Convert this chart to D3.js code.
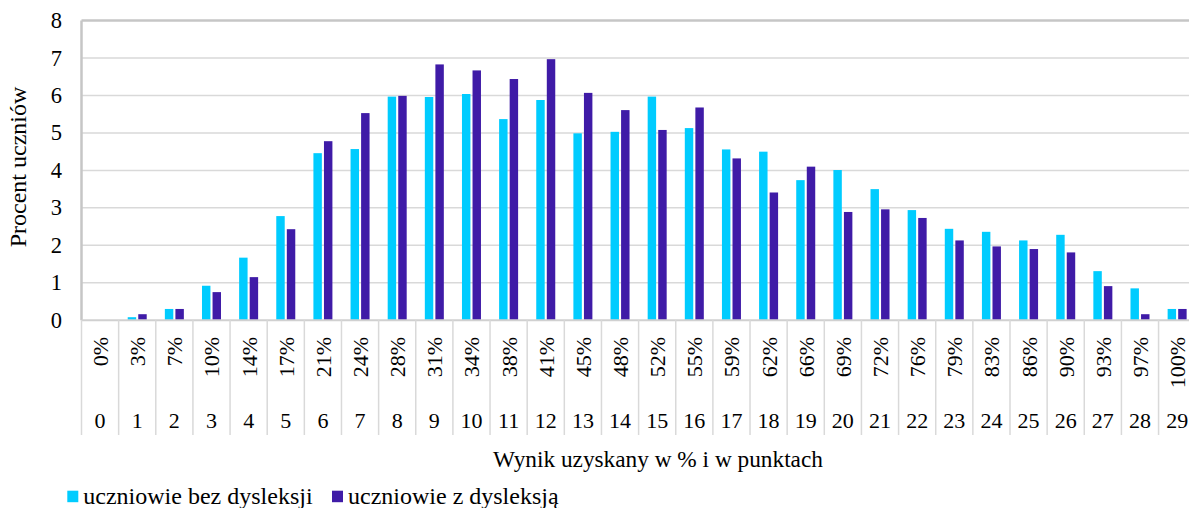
<!DOCTYPE html>
<html>
<head>
<meta charset="utf-8">
<script src="https://cdn.jsdelivr.net/npm/d3@7"></script>
<style>
html,body{margin:0;padding:0;background:#fff;}
svg{display:block;font-family:"Liberation Serif","Times New Roman",serif;}
</style>
</head>
<body>
<svg id="chart" width="1189" height="508"></svg>
<script>
const points = ["0","1","2","3","4","5","6","7","8","9","10","11","12","13","14","15","16","17","18","19","20","21","22","23","24","25","26","27","28","29"];
const percents = ["0%","3%","7%","10%","14%","17%","21%","24%","28%","31%","34%","38%","41%","45%","48%","52%","55%","59%","62%","66%","69%","72%","76%","79%","83%","86%","90%","93%","97%","100%"];
const bezDysleksji = [0,0.08,0.30,0.92,1.67,2.78,4.46,4.57,5.97,5.96,6.04,5.37,5.88,4.99,5.03,5.97,5.13,4.56,4.50,3.74,4.01,3.50,2.94,2.44,2.36,2.13,2.28,1.31,0.85,0.30];
const zDysleksja = [0,0.16,0.30,0.75,1.15,2.43,4.78,5.53,5.99,6.83,6.67,6.44,6.97,6.07,5.61,5.08,5.68,4.32,3.41,4.10,2.89,2.96,2.73,2.13,1.97,1.90,1.81,0.91,0.16,0.30];
const seriesNames = ["uczniowie bez dysleksji","uczniowie z dysleksją"];
const yTicks = [0,1,2,3,4,5,6,7,8];

(function(){
const colors = ["#00CCFF","#3F1BA7"];
const svg = d3.select("#chart");

const pL = 81.5, pR = 1195.7, pT = 20.6, pB = 320.2;
const x0 = d3.scaleBand().domain(points).range([pL, pR]).paddingInner(0).paddingOuter(0);
const bw = x0.bandwidth();
const x1 = d3.scaleBand().domain([0,1]).range([bw/2 - 9.5, bw/2 + 9.5]).paddingInner(0.2).paddingOuter(0);
const y = d3.scaleLinear().domain([0,8]).range([pB, pT]);

// gridlines
svg.append("g").selectAll("line").data(yTicks.filter(t => t > 0 && t < 8)).join("line")
  .attr("x1", pL).attr("x2", pR)
  .attr("y1", d => y(d)).attr("y2", d => y(d))
  .attr("stroke", "#d9d9d9").attr("stroke-width", 1.5);

// plot border top & left
svg.append("line").attr("x1", pL).attr("x2", pR).attr("y1", y(8)).attr("y2", y(8))
  .attr("stroke", "#c6c6c6").attr("stroke-width", 2.5);
svg.append("line").attr("x1", pL).attr("x2", pL).attr("y1", y(8)).attr("y2", y(0))
  .attr("stroke", "#c6c6c6").attr("stroke-width", 2.5);

// y tick labels
svg.append("g").selectAll("text").data(yTicks).join("text")
  .attr("x", 62).attr("y", d => y(d))
  .attr("text-anchor", "end").attr("dominant-baseline", "central")
  .attr("font-size", 22.5).attr("fill", "#000")
  .text(d => d);

// bars
const series = [bezDysleksji, zDysleksja];
series.forEach((vals, si) => {
  svg.append("g").selectAll("rect").data(vals).join("rect")
    .attr("x", (d, i) => x0(points[i]) + x1(si))
    .attr("width", x1.bandwidth())
    .attr("y", d => y(d))
    .attr("height", d => y(0) - y(d))
    .attr("fill", colors[si]);
});

// bottom axis line
svg.append("line").attr("x1", pL).attr("x2", pR).attr("y1", y(0)).attr("y2", y(0))
  .attr("stroke", "#d0d0d0").attr("stroke-width", 2);

// category separators
const bounds = points.map(p => x0(p)).concat([pR]);
svg.append("g").selectAll("line").data(bounds).join("line")
  .attr("x1", d => d).attr("x2", d => d)
  .attr("y1", y(0)).attr("y2", 435)
  .attr("stroke", "#d9d9d9").attr("stroke-width", 1.5);

// percent labels (rotated)
svg.append("g").selectAll("text").data(percents).join("text")
  .attr("transform", (d, i) => `translate(${x0(points[i]) + bw/2 + 0.5},337) rotate(-90)`)
  .attr("text-anchor", "end").attr("dominant-baseline", "central")
  .attr("font-size", 22).attr("fill", "#000")
  .text(d => d);

// point labels
svg.append("g").selectAll("text").data(points).join("text")
  .attr("x", (d) => x0(d) + bw/2).attr("y", 428.3)
  .attr("text-anchor", "middle")
  .attr("font-size", 22).attr("fill", "#000")
  .text(d => d);

// axis titles
svg.append("text").attr("x", 658).attr("y", 466.7).attr("text-anchor", "middle")
  .attr("font-size", 23.3).attr("fill", "#000").text("Wynik uzyskany w % i w punktach");
svg.append("text").attr("transform", "translate(18,167) rotate(-90)")
  .attr("text-anchor", "middle").attr("dominant-baseline", "central")
  .attr("font-size", 24).attr("fill", "#000").text("Procent uczniów");

// legend
const legX = [67.3, 332];
seriesNames.forEach((name, i) => {
  svg.append("rect").attr("x", legX[i]).attr("y", 490.7).attr("width", 11).attr("height", 11.5)
    .attr("fill", colors[i]);
  svg.append("text").attr("x", legX[i] + 16).attr("y", 504)
    .attr("font-size", 24).attr("fill", "#000").text(name);
});
})();
</script>
</body>
</html>
